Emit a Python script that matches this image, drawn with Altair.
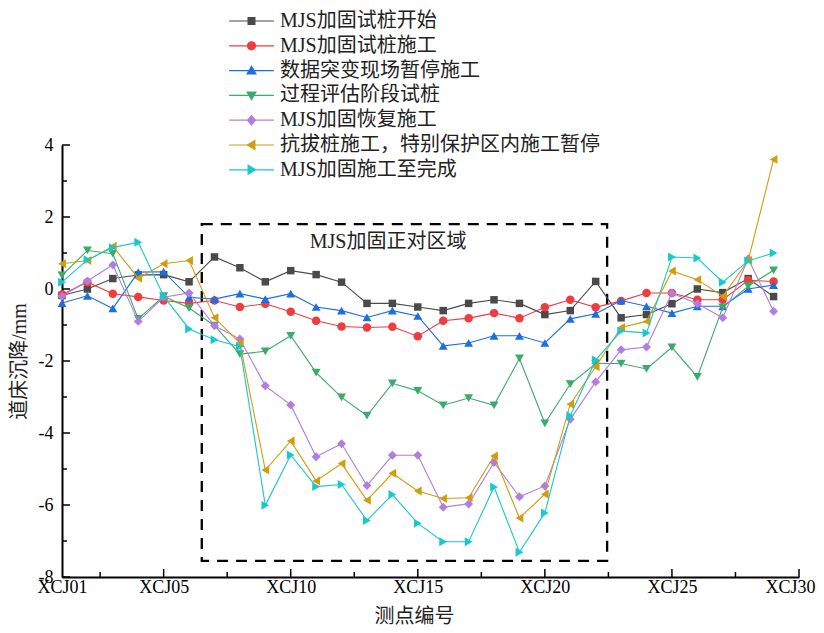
import altair as alt
import pandas as pd

# ---------------- data ----------------
idx = list(range(1, 30))  # XCJ01 ... XCJ29
names = [
    "MJS加固试桩开始",
    "MJS加固试桩施工",
    "数据突变现场暂停施工",
    "过程评估阶段试桩",
    "MJS加固恢复施工",
    "抗拔桩施工，特别保护区内施工暂停",
    "MJS加固施工至完成",
]
s_black = [-0.18, 0.0, 0.29, 0.39, 0.4, 0.2, 0.89, 0.59, 0.2, 0.51, 0.4, 0.19, -0.4, -0.4, -0.5,
           -0.6, -0.4, -0.3, -0.4, -0.71, -0.6, 0.21, -0.8, -0.71, -0.41, 0.0, -0.1, 0.29, -0.21]
s_red = [-0.15, 0.19, -0.13, -0.22, -0.32, -0.4, -0.32, -0.5, -0.41, -0.63, -0.88, -1.04, -1.07, -1.05, -1.31,
         -0.88, -0.81, -0.67, -0.81, -0.51, -0.3, -0.51, -0.33, -0.11, -0.11, -0.3, -0.3, 0.24, 0.21]
s_blue = [-0.39, -0.19, -0.54, 0.47, 0.48, -0.23, -0.28, -0.13, -0.28, -0.13, -0.5, -0.6, -0.79, -0.6, -0.75,
          -1.58, -1.5, -1.3, -1.3, -1.5, -0.83, -0.69, -0.32, -0.48, -0.67, -0.48, -0.48, 0.0, 0.11]
s_green = [0.38, 1.07, 0.98, -0.83, -0.2, -0.53, -1.02, -1.81, -1.73, -1.3, -2.32, -3.01, -3.52, -2.62, -2.83,
           -3.23, -3.03, -3.23, -1.93, -3.73, -2.64, -2.07, -2.07, -2.22, -1.62, -2.44, -0.51, 0.08, 0.52]
s_purple = [-0.2, 0.22, 0.67, -0.9, -0.23, -0.11, -1.02, -1.39, -2.69, -3.22, -4.66, -4.3, -5.46, -4.62, -4.62,
            -6.06, -5.97, -4.82, -5.77, -5.47, -3.62, -2.58, -1.69, -1.61, -0.12, -0.41, -0.8, 0.84, -0.62]
s_orange = [0.7, 0.79, 1.19, 0.3, 0.7, 0.79, -0.8, -1.5, -5.03, -4.22, -5.33, -4.85, -5.87, -5.12, -5.61,
            -5.82, -5.8, -4.64, -6.36, -5.7, -3.2, -2.16, -1.07, -0.9, 0.5, 0.26, -0.2, 0.79, 3.6]
s_cyan = [0.19, 0.81, 1.15, 1.3, -0.2, -1.11, -1.41, -1.6, -6.01, -4.61, -5.49, -5.43, -6.43, -5.71, -6.51,
          -7.02, -7.02, -5.5, -7.31, -6.22, -3.52, -1.97, -1.17, -1.22, 0.89, 0.86, 0.19, 0.78, 1.0]
series = [s_black, s_red, s_blue, s_green, s_purple, s_orange, s_cyan]

colors = ["#4a4a4a", "#f03c3e", "#1c6fe0", "#3aab6b", "#b27ddf", "#d29c0e", "#18c8cf"]
shapes = ["square", "circle", "triangle-up", "triangle-down", "diamond", "triangle-left", "triangle-right"]
sizes = [56, 72, 80, 80, 80, 80, 80]

# legend symbols: line segment + marker
legend_paths = [
    "M-5.6,0H5.6M-0.85,-0.85H0.85V0.85H-0.85Z",
    "M-5.6,0H5.6M1,0A1,1 0 1,1 -1,0A1,1 0 1,1 1,0Z",
    "M-5.6,0H5.6M0,-1.05L1.1,0.85H-1.1Z",
    "M-5.6,0H5.6M0,1.05L1.1,-0.85H-1.1Z",
    "M-5.6,0H5.6M0,-1.15L1.0,0L0,1.15L-1.0,0Z",
    "M-5.6,0H5.6M-1.05,0L0.85,-1.1V1.1Z",
    "M-5.6,0H5.6M1.05,0L-0.85,-1.1V1.1Z",
]

x_ticks = [1, 5, 10, 15, 20, 25, 30]
x_major = [5, 10, 15, 20, 25, 30]
x_minor = [2.5, 7.5, 12.5, 17.5, 22.5, 27.5]
y_major = [-8, -6, -4, -2, 0, 2, 4]
y_minor = [-7, -5, -3, -1, 1, 3]

box_x = [6.5, 22.45]
box_y = [-7.55, 1.8]
box_label = "MJS加固正对区域"
box_label_pos = [13.83, 1.3]

# ---------------- chart ----------------
FONT = "Times New Roman, Liberation Serif, Noto Sans CJK SC"
W, H = 737, 432

xscale = alt.Scale(domain=[1, 30], nice=False, zero=False)
yscale = alt.Scale(domain=[-8, 4], nice=False, zero=False)

xaxis = alt.Axis(
    values=x_ticks, ticks=False, grid=False, domainColor="black", domainWidth=2,
    labelExpr="datum.value < 10 ? 'XCJ0' + datum.value : 'XCJ' + datum.value",
    labelFont=FONT, labelFontSize=18, labelColor="black", labelPadding=1,
    labelOverlap=False, labelFlush=False,
    labelOffset={"condition": {"test": "datum.value >= 30", "value": -9}, "value": 0},
    title="测点编号", titleFont=FONT, titleFontSize=20, titleFontWeight="normal",
    titleColor="#222", titleX=352, titleY=39, titleBaseline="middle",
)
yaxis = alt.Axis(
    values=y_major, ticks=False, grid=False, domainColor="black", domainWidth=2,
    labelExpr="'' + datum.value", labelFont=FONT, labelFontSize=18, labelColor="black",
    labelPadding=9, labelFlush=False,
    title="道床沉降/mm", titleFont=FONT, titleFontSize=20, titleFontWeight="normal",
    titleColor="#222", titleX=-43, titleY=H / 2, titleBaseline="middle", titleAngle=-90,
)


def X(field):
    return alt.X(field, type="quantitative", scale=xscale, axis=xaxis)


def Y(field):
    return alt.Y(field, type="quantitative", scale=yscale, axis=yaxis)


layers = []

# dashed region box
box_df = pd.DataFrame({"x0": [box_x[0]], "x1": [box_x[1]], "y0": [box_y[0]], "y1": [box_y[1]]})
layers.append(
    alt.Chart(box_df).mark_rect(filled=False, color="black", strokeWidth=2.3, strokeDash=[11, 8])
    .encode(x=X("x0"), x2="x1", y=Y("y0"), y2="y1")
)
txt_df = pd.DataFrame({"x": [box_label_pos[0]], "y": [box_label_pos[1]], "t": [box_label]})
layers.append(
    alt.Chart(txt_df).mark_text(font=FONT, fontSize=20, color="#222", baseline="middle", align="center")
    .encode(x=X("x"), y=Y("y"), text="t:N")
)

# series
for name, vals, c, shp, sz in zip(names, series, colors, shapes, sizes):
    df = pd.DataFrame({"idx": idx, "v": vals, "series": name})
    base = alt.Chart(df)
    layers.append(base.mark_line(color=c, strokeWidth=1.1).encode(x=X("idx"), y=Y("v")))
    layers.append(
        base.mark_point(shape=shp, filled=True, size=sz, color=c, opacity=1, strokeWidth=0)
        .encode(x=X("idx"), y=Y("v"))
    )

# inward ticks
layers.append(alt.Chart(pd.DataFrame({"t": x_major})).mark_rule(color="black", strokeWidth=1.5)
              .encode(x=X("t"), y=alt.value(H), y2=alt.value(H - 8)))
layers.append(alt.Chart(pd.DataFrame({"t": x_minor})).mark_rule(color="black", strokeWidth=1.5)
              .encode(x=X("t"), y=alt.value(H), y2=alt.value(H - 5)))
layers.append(alt.Chart(pd.DataFrame({"t": y_major})).mark_rule(color="black", strokeWidth=1.5)
              .encode(y=Y("t"), x=alt.value(0), x2=alt.value(8)))
layers.append(alt.Chart(pd.DataFrame({"t": y_minor})).mark_rule(color="black", strokeWidth=1.5)
              .encode(y=Y("t"), x=alt.value(0), x2=alt.value(5)))

# legend layer (no visible marks)
leg_props = dict(
    title=None, orient="none", legendX=179.5, legendY=-134, symbolSize=64, symbolStrokeWidth=1.2,
    symbolOpacity=1, labelFont=FONT, labelFontSize=20, labelColor="#222", labelOffset=18.5,
    rowPadding=4.8, padding=0, labelLimit=600,
)
leg_df = pd.DataFrame({"series": names, "idx": [1] * len(names), "v": [0] * len(names)})
layers.append(
    alt.Chart(leg_df).transform_filter("datum.idx < 0")
    .mark_point(filled=True)
    .encode(
        color=alt.Color("series:N", scale=alt.Scale(domain=names, range=colors), legend=alt.Legend(**leg_props)),
        stroke=alt.Stroke("series:N", scale=alt.Scale(domain=names, range=colors), legend=alt.Legend(**leg_props)),
        shape=alt.Shape("series:N", scale=alt.Scale(domain=names, range=legend_paths), legend=alt.Legend(**leg_props)),
    )
)

chart = alt.layer(*layers).properties(
    width=W, height=H,
    padding={"left": 54, "top": 137, "right": 17, "bottom": 48},
    autosize=alt.AutoSizeParams(type="none"),
).configure_view(stroke=None)

chart.save("out.html", embed_options={"renderer": "svg", "actions": False})
